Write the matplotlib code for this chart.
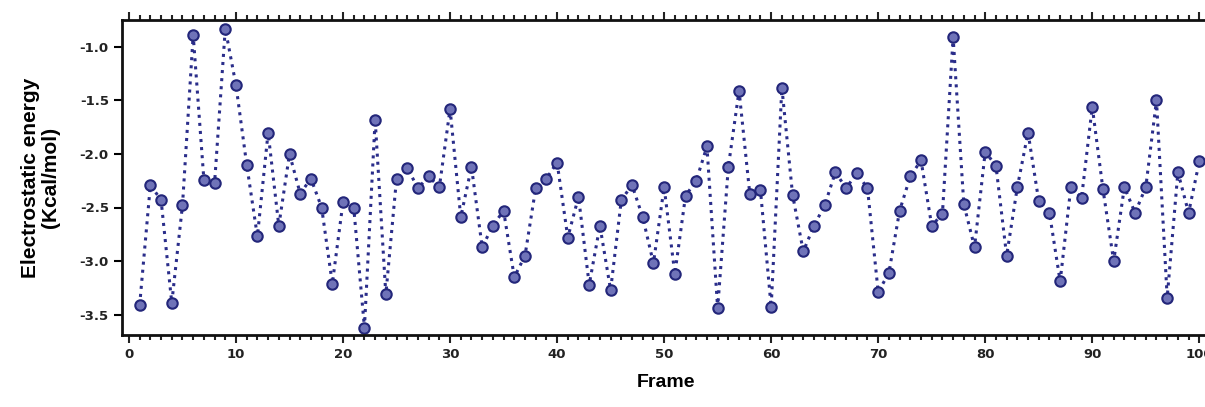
import matplotlib
matplotlib.use("Agg")
import matplotlib.pyplot as plt
from matplotlib.ticker import MultipleLocator

frames = list(range(1, 101))
energy = [
    -3.41, -2.29, -2.43, -3.39, -2.48, -0.89, -2.24, -2.27, -0.83, -1.36,
    -2.10, -2.77, -1.80, -2.67, -2.00, -2.37, -2.23, -2.50, -3.21, -2.45,
    -2.50, -3.62, -1.68, -3.31, -2.23, -2.13, -2.32, -2.21, -2.31, -1.58,
    -2.59, -2.12, -2.87, -2.67, -2.53, -3.15, -2.95, -2.32, -2.23, -2.08,
    -2.78, -2.40, -3.22, -2.67, -3.27, -2.43, -2.29, -2.59, -3.02, -2.31,
    -3.12, -2.39, -2.25, -1.93, -3.44, -2.12, -1.41, -2.37, -2.34, -3.43,
    -1.38, -2.38, -2.91, -2.67, -2.48, -2.17, -2.32, -2.18, -2.32, -3.29,
    -3.11, -2.53, -2.21, -2.06, -2.67, -2.56, -0.91, -2.47, -2.87, -1.98,
    -2.11, -2.95, -2.31, -1.80, -2.44, -2.55, -3.19, -2.31, -2.41, -1.56,
    -2.33, -3.00, -2.31, -2.55, -2.31, -1.50, -3.34, -2.17, -2.55, -2.07,
]
x_ticks = [0, 10, 20, 30, 40, 50, 60, 70, 80, 90, 100]
y_ticks = [-1.0, -1.5, -2.0, -2.5, -3.0, -3.5]

plt.rcParams['font.family'] = ['Liberation Sans', 'DejaVu Sans']

fig = plt.figure(figsize=(12.05, 4.07), dpi=100)
ax = fig.add_axes([122 / 1205, 1 - 335 / 407, (1210 - 122) / 1205, (335 - 20) / 407])

ax.plot(frames, energy, linestyle=':', color='#2a2d8a', linewidth=2.2,
        marker='o', markersize=7.5, markerfacecolor='#6f73b8',
        markeredgecolor='#23267a', markeredgewidth=1.5)

ax.set_xlim(-0.65, 101.0)
ax.set_ylim(-3.69, -0.75)
ax.set_xticks(x_ticks)
ax.set_yticks(y_ticks)
ax.set_yticklabels([f"{v:.1f}" for v in y_ticks])
ax.xaxis.set_minor_locator(MultipleLocator(1))

for s in ax.spines.values():
    s.set_linewidth(2)
    s.set_color('#111111')

ax.tick_params(axis='x', which='both', direction='out', top=True, bottom=True,
               labeltop=False, width=1.5, color='#222222')
ax.tick_params(axis='x', which='major', length=6)
ax.tick_params(axis='x', which='minor', length=3.5)
ax.tick_params(axis='y', which='major', direction='out', length=6, width=1.5, right=False)
for lbl in ax.get_xticklabels() + ax.get_yticklabels():
    lbl.set_fontweight('bold')
    lbl.set_color('#222222')
    lbl.set_family('DejaVu Sans')
    lbl.set_fontsize(9.5)

ax.set_xlabel('Frame', fontsize=14, fontweight='bold', labelpad=9)
ax.set_ylabel('Electrostatic energy\n(Kcal/mol)', fontsize=15, fontweight='bold',
              labelpad=14, linespacing=1.1)

fig.savefig('out.png', dpi=100)
